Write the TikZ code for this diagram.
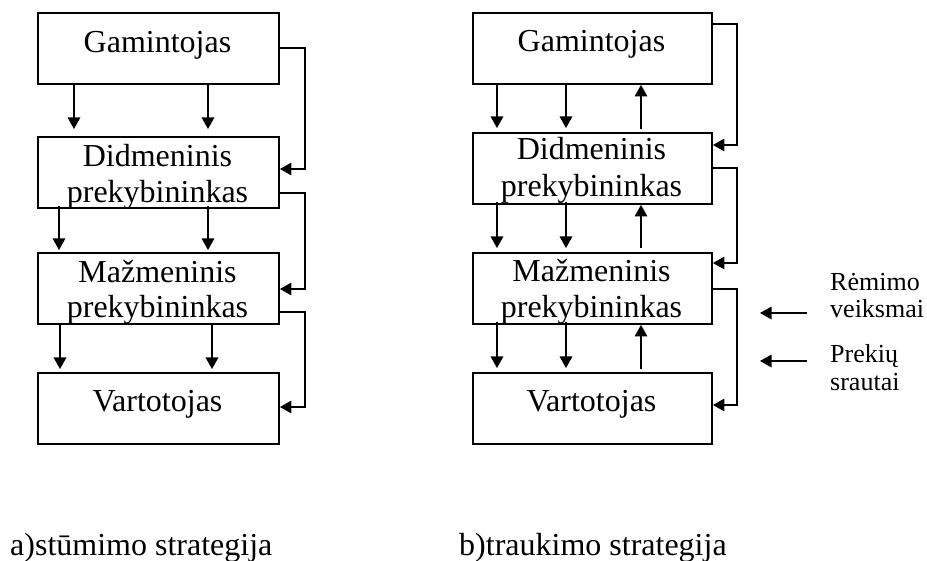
\documentclass[tikz,border=0pt]{standalone}
\usepackage{fontspec}
\setmainfont{Liberation Serif}
\usetikzlibrary{arrows.meta,calc}
\begin{document}
\begin{tikzpicture}[x=1pt,y=-1pt,
  box/.style={draw, line width=1.9pt, inner sep=0pt, anchor=north west,
              minimum height=71pt},
  boxL/.style={box, minimum width=241pt},
  boxR/.style={box, minimum width=239pt},
  flow/.style={line width=1.5pt, -{Triangle[length=11.5pt,width=12.5pt]}},
  lbl/.style={font=\fontsize{32}{36}\selectfont, anchor=base, inner sep=0pt},
  key/.style={font=\fontsize{26}{29}\selectfont, anchor=base west, inner sep=0pt}]
\useasboundingbox (0,0) rectangle (927,561);

% ---------- a) push strategy ----------
\node[boxL] (gL) at (37,12)  {};
\node[boxL] (dL) at (37,136) {};
\node[boxL] (mL) at (37,252) {};
\node[boxL] (vL) at (37,372) {};

\node[lbl] (gLt)  at (157.5,53)  {Gamintojas};
\node[lbl] (dLt1) at (157.5,167) {Didmeninis};
\node[lbl] (dLt2) at (157.5,203) {prekybininkas};
\node[lbl] (mLt1) at (157.5,283) {Mažmeninis};
\node[lbl] (mLt2) at (157.5,318) {prekybininkas};
\node[lbl] (vLt)  at (157.5,412) {Vartotojas};

% downward flows
\foreach \dx in {37,171}
  \draw[flow] ($(gL.south west)+(\dx,0)$) -- ($(dL.north west)+(\dx,-7)$);
\foreach \dx in {22,171}
  \draw[flow] ($(dL.south west)+(\dx,-3)$) -- ($(mL.north west)+(\dx,-2)$);
\foreach \dx in {23,175}
  \draw[flow] ($(mL.south west)+(\dx,-1)$) -- ($(vL.north west)+(\dx,-3)$);

% side loops
\draw[flow] ($(gL.north east)+(0,36)$) -- ++(25,0) |- ($(dL.north east)+(0,33)$);
\draw[flow] ($(dL.north east)+(0,57)$) -- ++(25,0) |- ($(mL.north east)+(0,37)$);
\draw[flow] ($(mL.north east)+(0,60)$) -- ++(25,0) |- ($(vL.north east)+(0,35)$);

% ---------- b) pull strategy ----------
\node[boxR] (gR) at (472,12)  {};
\node[boxR] (dR) at (472,132) {};
\node[boxR] (mR) at (472,252) {};
\node[boxR] (vR) at (472,372) {};

\node[lbl] (gRt)  at (591.5,52)  {Gamintojas};
\node[lbl] (dRt1) at (591.5,160) {Didmeninis};
\node[lbl] (dRt2) at (591.5,197) {prekybininkas};
\node[lbl] (mRt1) at (591.5,282) {Mažmeninis};
\node[lbl] (mRt2) at (591.5,318) {prekybininkas};
\node[lbl] (vRt)  at (591.5,412) {Vartotojas};

% downward flows
\foreach \dx in {25,94}{
  \draw[flow] ($(gR.south west)+(\dx,0)$)  -- ($(dR.north west)+(\dx,-4)$);
  \draw[flow] ($(dR.south west)+(\dx,-3)$) -- ($(mR.north west)+(\dx,-4)$);
  \draw[flow] ($(mR.south west)+(\dx,-3)$) -- ($(vR.north west)+(\dx,-4)$);
}
% upward flows
\draw[flow] ($(vR.north west)+(169,-3)$) -- ($(mR.south west)+(169,0)$);
\draw[flow] ($(mR.north west)+(169,-4)$) -- ($(dR.south west)+(169,0)$);
\draw[flow] ($(dR.north west)+(169,-3)$) -- ($(gR.south west)+(169,0)$);

% side loops
\draw[flow] ($(gR.north east)+(0,12)$) -- ++(24,0) |- ($(dR.north east)+(0,13)$);
\draw[flow] ($(dR.north east)+(0,36)$) -- ++(24,0) |- ($(mR.north east)+(0,11)$);
\draw[flow] ($(mR.north east)+(0,37)$) -- ++(24,0) |- ($(vR.north east)+(0,33)$);

% ---------- key ----------
\coordinate (kA1) at (807,313);
\coordinate (kA2) at (760,313);
\coordinate (kB1) at (807,361);
\coordinate (kB2) at (760,361);
\draw[flow] (kA1) -- (kA2);
\draw[flow] (kB1) -- (kB2);
\node[key] (kAt1) at (830,291) {Rėmimo};
\node[key] (kAt2) at (830,318) {veiksmai};
\node[key] (kBt1) at (830,363) {Prekių};
\node[key] (kBt2) at (830,391) {srautai};

% ---------- captions ----------
\node[lbl, anchor=base west] (capA) at (10,555)  {a)stūmimo strategija};
\node[lbl, anchor=base west] (capB) at (459,555) {b)traukimo strategija};
\end{tikzpicture}
\end{document}
